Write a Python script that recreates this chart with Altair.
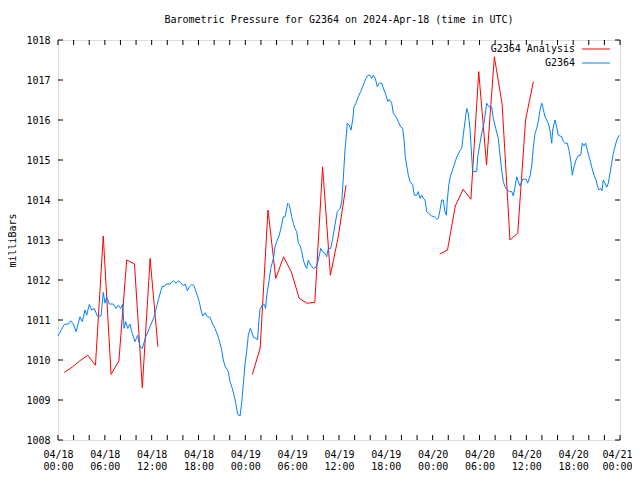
import altair as alt
import pandas as pd

# Times are hours since 2024-04-18 00:00 UTC
station_hours = [0.0, 0.81, 1.32, 1.63, 1.96, 2.31, 2.82, 3.11, 3.46, 3.68, 4.01, 4.32, 4.65, 5.03, 5.51,
                 5.80, 6.02, 6.24, 6.57, 7.08, 7.43, 7.73, 8.03, 8.29, 8.46, 8.67, 8.93, 9.22, 9.44, 9.86,
                 10.21, 10.51, 10.80, 11.24, 11.79, 12.30, 12.85, 13.36, 13.58, 13.84, 14.35, 14.77, 15.12,
                 15.41, 15.76, 16.05, 16.31, 16.57, 16.82, 17.13, 17.42, 17.68, 18.10, 18.32, 18.54, 18.83,
                 19.13, 19.47, 19.82, 20.11, 20.46, 20.75, 20.97, 21.18, 21.39, 21.82, 22.04, 22.33, 22.55,
                 22.77, 23.02, 23.32, 23.53, 23.74, 23.96, 24.18, 24.38, 24.64, 24.85, 25.02, 25.41, 25.57,
                 25.72, 25.88, 26.20, 26.46, 26.58, 26.78, 27.01, 27.26, 27.61, 27.80, 28.02, 28.35, 28.66,
                 28.86, 29.08, 29.43, 29.63, 29.94, 30.15, 30.36, 30.58, 30.79, 31.00, 31.22, 31.43, 31.64,
                 31.86, 32.07, 32.37, 32.71, 33.05, 33.35, 33.66, 33.91, 34.21, 34.42, 34.63, 34.94, 35.19,
                 35.49, 35.78, 36.13, 36.35, 36.47, 36.64, 36.77, 36.90, 37.06, 37.32, 37.54, 37.75, 37.92,
                 38.18, 38.47, 38.78, 39.11, 39.46, 39.72, 39.97, 40.19, 40.39, 40.65, 40.91, 41.16, 41.47,
                 41.77, 42.02, 42.24, 42.44, 42.75, 42.96, 43.30, 43.60, 43.90, 44.16, 44.33, 44.49, 44.67,
                 44.88, 45.10, 45.44, 45.65, 45.95, 46.16, 46.38, 46.60, 46.80, 47.02, 47.24, 47.44, 47.88,
                 48.21, 48.52, 48.72, 48.94, 49.16, 49.36, 49.58, 49.75, 49.88, 50.07, 50.28, 50.54, 50.80,
                 51.05, 51.41, 51.72, 51.92, 52.14, 52.36, 52.56, 52.78, 53.00, 53.13, 53.64, 53.77, 54.06,
                 54.28, 54.58, 54.92, 55.22, 55.56, 55.77, 56.08, 56.41, 56.63, 56.84, 57.05, 57.27, 57.56,
                 57.82, 58.13, 58.33, 58.55, 58.77, 58.97, 59.19, 59.53, 59.96, 60.17, 60.47, 60.69, 60.89,
                 61.11, 61.33, 61.53, 61.75, 61.97, 62.17, 62.39, 62.61, 62.81, 63.03, 63.25, 63.38, 63.67,
                 63.89, 64.09, 64.53, 64.74, 64.95, 65.25, 65.50, 65.68, 65.89, 66.11, 66.36, 66.66, 66.96,
                 67.17, 67.39, 67.60, 67.86, 68.16, 68.37, 68.67, 68.93, 69.14, 69.31, 69.53, 69.69, 69.86,
                 70.08, 70.30, 70.50, 70.72, 70.94, 71.14, 71.36, 71.58, 71.91]
station_mb = [1010.6, 1010.89, 1010.9, 1010.98, 1010.9, 1010.71, 1011.08, 1010.96, 1011.25, 1011.12, 1011.39,
              1011.25, 1011.29, 1011.1, 1011.1, 1011.69, 1011.42, 1011.58, 1011.4, 1011.4, 1011.29, 1011.37,
              1011.29, 1011.4, 1010.79, 1010.96, 1010.79, 1010.9, 1010.71, 1010.46, 1010.62, 1010.33, 1010.29,
              1010.58, 1010.83, 1011.08, 1011.5, 1011.85, 1011.83, 1011.9, 1011.9, 1011.98, 1011.92, 1011.98,
              1011.93, 1011.86, 1011.9, 1011.73, 1011.83, 1011.89, 1011.86, 1011.71, 1011.46, 1011.25, 1011.1,
              1011.18, 1011.08, 1011.07, 1010.9, 1010.79, 1010.62, 1010.42, 1010.25, 1010.0, 1009.85, 1009.71,
              1009.46, 1009.29, 1009.12, 1008.92, 1008.64, 1008.6, 1008.92, 1009.4, 1009.9, 1010.23, 1010.62,
              1010.79, 1010.7, 1010.57, 1010.54, 1010.5, 1010.94, 1011.27, 1011.38, 1011.38, 1011.29, 1011.67,
              1011.94, 1012.29, 1012.55, 1012.83, 1012.96, 1013.12, 1013.38, 1013.58, 1013.58, 1013.92, 1013.88,
              1013.58, 1013.42, 1013.29, 1013.21, 1012.92, 1012.87, 1012.71, 1012.5, 1012.37, 1012.29, 1012.5,
              1012.37, 1012.29, 1012.32, 1012.5, 1012.79, 1012.71, 1012.67, 1012.58, 1012.79, 1012.79, 1013.04,
              1013.38, 1013.71, 1013.78, 1013.95, 1014.3, 1014.83, 1015.25, 1015.54, 1015.92, 1015.87, 1015.75,
              1016.0, 1016.33, 1016.42, 1016.58, 1016.71, 1016.87, 1017.04, 1017.12, 1017.12, 1017.04, 1017.12,
              1017.04, 1016.83, 1016.92, 1016.92, 1016.75, 1016.62, 1016.46, 1016.52, 1016.42, 1016.17, 1016.08,
              1015.96, 1015.83, 1015.79, 1015.5, 1015.08, 1014.87, 1014.62, 1014.46, 1014.37, 1014.12, 1014.12,
              1014.21, 1014.04, 1014.12, 1014.04, 1014.0, 1013.71, 1013.67, 1013.6, 1013.58, 1013.52, 1013.54,
              1013.75, 1014.0, 1014.0, 1013.7, 1013.62, 1014.0, 1014.38, 1014.6, 1014.75, 1014.9, 1015.05,
              1015.21, 1015.29, 1015.62, 1015.96, 1016.29, 1016.17, 1015.79, 1015.08, 1014.71, 1014.71, 1015.08,
              1015.42, 1015.67, 1015.92, 1016.42, 1016.33, 1016.33, 1016.04, 1015.79, 1015.54, 1015.12, 1014.75,
              1014.46, 1014.33, 1014.25, 1014.21, 1014.21, 1014.1, 1014.33, 1014.58, 1014.46, 1014.35, 1014.52,
              1014.52, 1014.42, 1014.6, 1014.85, 1015.3, 1015.66, 1015.79, 1015.96, 1016.25, 1016.42, 1016.27,
              1016.08, 1016.0, 1015.92, 1015.75, 1015.42, 1015.75, 1016.0, 1015.83, 1015.62, 1015.58, 1015.46,
              1015.42, 1015.42, 1015.21, 1015.0, 1014.62, 1014.83, 1015.0, 1015.11, 1015.12, 1015.42, 1015.35,
              1015.42, 1015.21, 1015.0, 1014.83, 1014.62, 1014.5, 1014.33, 1014.25, 1014.29, 1014.23, 1014.5,
              1014.42, 1014.32, 1014.42, 1014.67, 1014.92, 1015.17, 1015.33, 1015.5, 1015.62]

analysis_hours = [0.8, 1.8, 2.8, 3.8, 4.8, 5.8, 6.8, 7.8, 8.8, 9.8, 10.8, 11.8, 12.8,
                  24.9, 25.9, 26.9, 27.9, 28.9, 29.9, 30.9, 31.9, 32.9, 33.9, 34.9, 35.9, 36.9,
                  48.9, 49.9, 50.9, 51.9, 52.9, 53.9, 54.9, 55.9, 56.9, 57.9, 58.9, 59.9, 60.9]
analysis_mb = [1009.69, 1009.82, 1009.98, 1010.12, 1009.87, 1013.1, 1009.64, 1009.98, 1012.5, 1012.4,
               1009.31, 1012.54, 1010.33,
               1009.64, 1010.3, 1013.75, 1012.04, 1012.58, 1012.2, 1011.54, 1011.42, 1011.44, 1014.83,
               1012.12, 1013.08, 1014.37,
               1012.65, 1012.75, 1013.85, 1014.27, 1014.02, 1017.21, 1014.88, 1017.58, 1016.4, 1013.0,
               1013.17, 1016.0, 1016.96]
analysis_run = [1] * 13 + [2] * 13 + [3] * 13

series_names = ["G2364 Analysis", "G2364"]
series_colors = ["#ff0000", "#0080ff"]

x_tick_hours = list(range(0, 73, 2))
x_label_hours = list(range(0, 73, 6))
y_ticks = list(range(1008, 1019))

FONT = "DejaVu Sans Mono"
W, H = 562, 400

station = pd.DataFrame({"h": station_hours, "p": station_mb, "series": "G2364", "run": 0})
analysis = pd.DataFrame({"h": analysis_hours, "p": analysis_mb, "series": "G2364 Analysis",
                         "run": analysis_run})
lines_df = pd.concat([analysis, station], ignore_index=True)

xscale = alt.Scale(domain=[0, 72], nice=False, zero=False)
yscale = alt.Scale(domain=[1008, 1018], nice=False, zero=False)
cscale = alt.Scale(domain=series_names, range=series_colors)

label_expr = ("['04/' + toString(18 + floor(datum.value / 24)), "
              "(datum.value % 24 < 10 ? '0' : '') + toString(datum.value % 24) + ':00']")

xaxis = alt.Axis(values=x_label_hours, labelExpr=label_expr, title=None, ticks=False, domain=False,
                 grid=False, labelFlush=False, labelOverlap=False, labelFont=FONT, labelFontSize=10,
                 labelColor="black", labelLineHeight=12, labelPadding=9, labelBaseline="top",
                 labelAlign={"condition": {"test": "datum.value == 72", "value": "right"},
                             "value": "center"},
                 labelOffset={"condition": {"test": "datum.value == 72", "value": 12}, "value": 0})
yaxis = alt.Axis(values=y_ticks, title="milliBars", ticks=False, domain=False, grid=False,
                 labelFont=FONT, labelFontSize=10, labelColor="black", labelPadding=8,
                 titleFont=FONT, titleFontSize=10, titleFontWeight="normal", titleColor="black",
                 titlePadding=8, format="d")

X = alt.X("h:Q", scale=xscale, axis=xaxis)
Y = alt.Y("p:Q", scale=yscale, axis=yaxis)

lines = alt.Chart(lines_df).mark_line(strokeWidth=1, interpolate="linear").encode(
    x=X, y=Y,
    color=alt.Color("series:N", scale=cscale, legend=None),
    detail="run:N",
    order=alt.Order("h:Q"),
)

# key (legend) in the top-right corner, one row per series
key_layers = []
for i, name in enumerate(series_names):
    kd = pd.DataFrame({"series": [name]})
    key_layers.append(alt.Chart(kd).mark_text(align="right", baseline="middle", font=FONT,
                                              fontSize=10, color="black").encode(
        text="series:N", x=alt.value(517), y=alt.value(9 + 14 * i)))
    key_layers.append(alt.Chart(kd).mark_rule(strokeWidth=1).encode(
        color=alt.Color("series:N", scale=cscale, legend=None),
        x=alt.value(524), x2=alt.value(552), y=alt.value(9 + 14 * i)))

xt = pd.DataFrame({"h": x_tick_hours})
yt = pd.DataFrame({"p": y_ticks})
tick_bottom = alt.Chart(xt).mark_rule(color="black", strokeWidth=1).encode(
    x=X, y=alt.value(H), y2=alt.value(H - 5))
tick_top = alt.Chart(xt).mark_rule(color="black", strokeWidth=1).encode(
    x=X, y=alt.value(0), y2=alt.value(5))
tick_left = alt.Chart(yt).mark_rule(color="black", strokeWidth=1).encode(
    y=Y, x=alt.value(0), x2=alt.value(5))
tick_right = alt.Chart(yt).mark_rule(color="black", strokeWidth=1).encode(
    y=Y, x=alt.value(W), x2=alt.value(W - 5))

chart = alt.layer(tick_bottom, tick_top, tick_left, tick_right, lines, *key_layers).properties(
    width=W, height=H,
    title=alt.TitleParams("Barometric Pressure for G2364 on 2024-Apr-18 (time in UTC)",
                          font=FONT, fontSize=10, fontWeight="normal", color="black",
                          anchor="middle", frame="group", offset=10),
    autosize=alt.AutoSizeParams(type="none"),
    padding={"left": 50, "top": 32, "right": 12, "bottom": 30},
).configure_view(stroke="black", strokeWidth=1).configure(background="white")

chart.save("out.html", embed_options={"renderer": "svg", "actions": False})
